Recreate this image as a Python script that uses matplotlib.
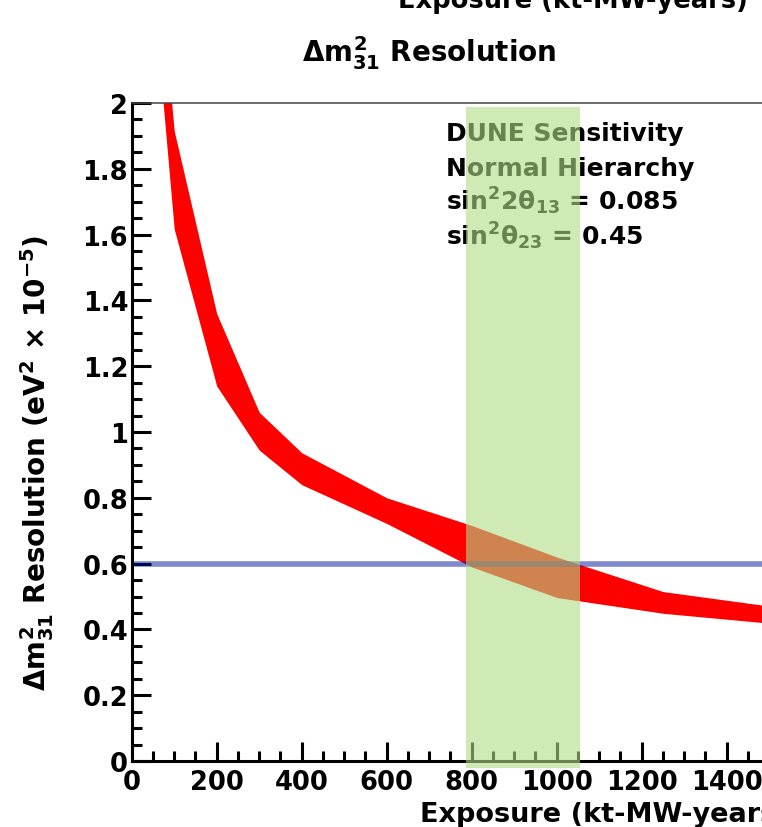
import matplotlib
matplotlib.use("Agg")
import matplotlib.pyplot as plt
from matplotlib.ticker import MultipleLocator

# Exposure grid (kt-MW-years) and the resolution band limits (eV^2 x 1e-5)
exposure = [50, 100, 200, 300, 400, 600, 800, 1000, 1250, 1500]
res_upper = [2.62, 1.915, 1.36, 1.06, 0.937, 0.80, 0.716, 0.62, 0.515, 0.471]
res_lower = [2.35, 1.617, 1.14, 0.945, 0.84, 0.722, 0.59, 0.497, 0.449, 0.419]

# Reference resolution level and highlighted exposure window
target_resolution = 0.6
window = [786, 1055]

info_lines = [
    "DUNE Sensitivity",
    "Normal Hierarchy",
    r"sin$^{2}$2$\mathsf{\theta}_{13}$ = 0.085",
    r"sin$^{2}\mathsf{\theta}_{23}$ = 0.45",
]

plt.rcParams["font.family"] = ["DejaVu Sans"]
plt.rcParams["font.weight"] = "bold"
plt.rcParams["mathtext.fontset"] = "custom"
plt.rcParams["mathtext.rm"] = "DejaVu Sans:bold"
plt.rcParams["mathtext.it"] = "DejaVu Sans:bold"
plt.rcParams["mathtext.bf"] = "DejaVu Sans:bold"
plt.rcParams["mathtext.sf"] = "DejaVu Sans"

W, H = 762, 828
fig = plt.figure(figsize=(W / 100, H / 100), dpi=100)


def fx(px):
    return px / W


def fy(py):
    return 1 - py / H


x0, y0 = 131.7, 762.0
px_per_x = 0.425
px_per_y = 329.0
ax = fig.add_axes([fx(x0), fy(y0), 1500 * px_per_x / W, 2 * px_per_y / H])
ax.set_xlim(0, 1500)
ax.set_ylim(0, 2)

ax.fill_between(exposure, res_lower, res_upper, color="#ff0000", lw=0, zorder=1)
ax.axhline(target_resolution, color=(0.0, 0.07, 0.6), alpha=0.5, lw=4.0, zorder=2)

for i, line in enumerate(info_lines):
    ax.text(fx(446.5), fy(141.5 + 34.5 * i), line, transform=fig.transFigure,
            fontsize=18, fontweight="bold", ha="left", va="baseline", zorder=3)

ax.axvspan(window[0], window[1], ymin=-0.01, ymax=0.994, color="#afdc84",
           alpha=0.6, lw=0, zorder=5, clip_on=False)

for side in ("left", "bottom"):
    ax.spines[side].set_linewidth(2.2)
    ax.spines[side].set_color("black")
ax.spines["top"].set_linewidth(1.1)
ax.spines["top"].set_color("#444444")
ax.spines["right"].set_visible(False)

ax.xaxis.set_major_locator(MultipleLocator(200))
ax.xaxis.set_minor_locator(MultipleLocator(50))
ax.yaxis.set_major_locator(MultipleLocator(0.2))
ax.yaxis.set_minor_locator(MultipleLocator(0.05))
ax.yaxis.set_major_formatter(plt.FuncFormatter(lambda v, p: f"{v:g}"))
ax.tick_params(which="both", direction="in", top=False, right=False, width=2.2,
               color="black", labelsize=18.5)
ax.tick_params(which="major", length=14)
ax.tick_params(which="minor", length=7)
ax.tick_params(axis="x", which="major", pad=6)
ax.tick_params(axis="y", which="major", pad=2.5)
for lab in ax.get_xticklabels() + ax.get_yticklabels():
    lab.set_fontweight("bold")

fig.text(fx(429), fy(62), r"$\mathsf{\Delta}m^{2}_{31}$ Resolution", fontsize=20,
         fontweight="bold", ha="center", va="baseline")
fig.text(fx(37), fy(463),
         r"$\mathsf{\Delta}m^{2}_{31}$ Resolution (eV$^{2}$ $\mathsf{\times}$ 10$^{-5}$)",
         fontsize=20, fontweight="bold", rotation=90, ha="center", va="center")
fig.text(fx(420), fy(822), "Exposure (kt-MW-years)", fontsize=19.5,
         fontweight="bold", ha="left", va="baseline")
fig.text(fx(748), fy(8), "Exposure (kt-MW-years)", fontsize=18.5,
         fontweight="bold", ha="right", va="baseline")

fig.savefig("out.png", dpi=100)
